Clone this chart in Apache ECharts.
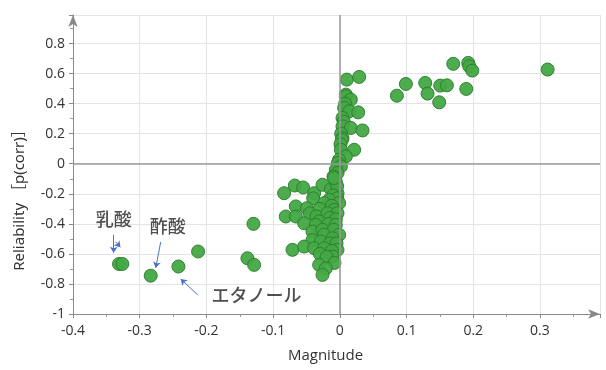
<!DOCTYPE html>
<html>
<head>
<meta charset="utf-8">
<script src="https://cdn.jsdelivr.net/npm/echarts@6/dist/echarts.min.js"></script>
<style>
  html, body { margin: 0; padding: 0; background: #fff; }
  #s-plot { width: 606px; height: 370px; }
</style>
</head>
<body>
<div id="s-plot"></div>
<script>
  // [magnitude, reliability]
  var pointsRight = [
    [0.170, 0.665], [0.1925, 0.671], [0.194, 0.649], [0.1985, 0.62], [0.3115, 0.627],
    [0.099, 0.531], [0.0855, 0.453], [0.128, 0.538], [0.1315, 0.467], [0.1505, 0.52],
    [0.1605, 0.522], [0.149, 0.409], [0.1895, 0.498]
  ];
  var pointsUpper = [
    [0.0105, 0.56], [0.029, 0.578], [0.009, 0.46], [0.009, 0.449], [0.0165, 0.427],
    [0.008, 0.40], [0.0065, 0.371], [0.014, 0.349], [0.0275, 0.342], [0.004, 0.305],
    [0.006, 0.28], [0.004, 0.249], [0.0165, 0.238], [0.034, 0.222], [0.002, 0.20],
    [0.004, 0.171], [0.003, 0.16], [0.001, 0.13], [0.0015, 0.093], [0.0215, 0.093],
    [0.009, 0.049], [-0.001, 0.027], [-0.003, 0.005], [0.0015, -0.018], [-0.006, -0.04],
    [-0.0035, -0.062], [-0.0095, -0.085], [-0.0085, -0.095]
  ];
  var pointsLower = [
    [-0.0835, -0.196], [-0.0675, -0.145], [-0.055, -0.158], [-0.0385, -0.196], [-0.026, -0.14],
    [-0.0135, -0.169], [-0.0035, -0.196], [-0.006, -0.12], [-0.004, -0.15], [-0.010, -0.21],
    [-0.004, -0.23], [-0.016, -0.24], [-0.04, -0.23], [-0.066, -0.284], [-0.0495, -0.296],
    [-0.0235, -0.262], [-0.001, -0.262], [-0.012, -0.28], [-0.03, -0.30], [-0.0085, -0.307],
    [-0.081, -0.351], [-0.066, -0.351], [-0.045, -0.33], [-0.035, -0.35], [-0.0185, -0.329],
    [-0.0035, -0.329], [-0.015, -0.36], [-0.006, -0.37], [-0.0535, -0.396], [-0.031, -0.384],
    [-0.036, -0.407], [-0.017, -0.40], [-0.006, -0.407], [-0.041, -0.451], [-0.026, -0.44],
    [-0.009, -0.44], [-0.0235, -0.473], [-0.001, -0.473], [-0.011, -0.496], [-0.041, -0.507],
    [-0.0285, -0.518], [-0.015, -0.53], [-0.005, -0.53], [-0.071, -0.573], [-0.0535, -0.551],
    [-0.0385, -0.562], [-0.0235, -0.562], [-0.0035, -0.573], [-0.012, -0.58], [-0.030, -0.60],
    [-0.011, -0.618], [-0.02, -0.62], [-0.008, -0.66], [-0.031, -0.673], [-0.021, -0.696],
    [-0.026, -0.74]
  ];
  var pointsLeft = [
    [-0.331, -0.667], [-0.326, -0.667], [-0.2835, -0.745], [-0.242, -0.684], [-0.2125, -0.584],
    [-0.1295, -0.40], [-0.1385, -0.629], [-0.1285, -0.673]
  ];

  // annotations: [x, y, text] and arrows [[x0, y0], [x1, y1]]
  var noteLabels = [
    [-0.339, -0.37, '乳酸'],
    [-0.258, -0.415, '酢酸'],
    [-0.125, -0.873, 'エタノール']
  ];
  var noteArrows = [
    [[-0.339, -0.473], [-0.339, -0.593]],
    [[-0.336, -0.52], [-0.329, -0.556]],
    [[-0.2685, -0.52], [-0.276, -0.693]],
    [[-0.213, -0.873], [-0.2385, -0.767]]
  ];

  var xMin = -0.4, xMax = 0.39, xStep = 0.1;
  var yMin = -1, yMax = 0.99, yStep = 0.2;

  var allPoints = pointsLeft.concat(pointsLower, pointsUpper, pointsRight);
  var chart = echarts.init(document.getElementById('s-plot'));

  var labelFont = '"Open Sans", "Noto Sans", sans-serif';

  var option = {
    animation: false,
    backgroundColor: '#fff',
    grid: { left: 73, right: 6, top: 15, bottom: 56 },
    xAxis: {
      type: 'value',
      min: xMin, max: xMax, interval: xStep,
      name: 'Magnitude',
      nameLocation: 'middle',
      nameGap: 34,
      nameTextStyle: { color: '#333', fontSize: 15, fontFamily: labelFont, padding: [0, 22, 0, 0] },
      axisLine: { onZero: false, symbol: ['none', 'arrow'], symbolSize: [7, 12], lineStyle: { color: '#888', width: 1 } },
      axisTick: { show: true, length: 4, lineStyle: { color: '#888' } },
      minorTick: { show: true, splitNumber: 2, length: 3, lineStyle: { color: '#999' } },
      axisLabel: { color: '#333', fontSize: 14, fontFamily: labelFont, margin: 10, showMaxLabel: false },
      splitLine: { show: true, lineStyle: { color: '#e4e4e4' } }
    },
    yAxis: {
      type: 'value',
      min: yMin, max: yMax, interval: yStep,
      name: 'Reliability ［p(corr)］',
      nameLocation: 'middle',
      nameGap: 46,
      nameTextStyle: { color: '#333', fontSize: 15, fontFamily: '"Noto Sans", "Noto Sans CJK JP", sans-serif', padding: [0, 64, 0, 0] },
      axisLine: { onZero: false, symbol: ['none', 'arrow'], symbolSize: [7, 12], lineStyle: { color: '#888', width: 1 } },
      axisTick: { show: true, length: 4, lineStyle: { color: '#888' } },
      minorTick: { show: true, splitNumber: 2, length: 3, lineStyle: { color: '#999' } },
      axisLabel: { color: '#333', fontSize: 14, fontFamily: labelFont, margin: 8, showMaxLabel: false },
      splitLine: { show: true, lineStyle: { color: '#e4e4e4' } }
    },
    series: [
      {
        name: 'zero',
        type: 'scatter',
        data: [],
        markLine: {
          silent: true,
          symbol: ['none', 'none'],
          label: { show: false },
          lineStyle: { color: '#9a9a9a', width: 1.5, type: 'solid' },
          data: [{ xAxis: 0 }, { yAxis: 0 }]
        }
      },
      {
        name: 'S-plot',
        type: 'scatter',
        symbol: 'circle',
        symbolSize: 13,
        itemStyle: { color: '#43a843', borderColor: '#2c7d2e', borderWidth: 1, opacity: 0.95 },
        data: allPoints
      },
      {
        name: 'notes',
        type: 'scatter',
        symbolSize: 0,
        data: noteLabels,
        label: {
          show: true,
          position: 'inside',
          formatter: function (p) { return p.value[2]; },
          color: '#222',
          fontSize: 18,
          fontWeight: 500,
          fontFamily: '"Noto Sans CJK JP", sans-serif'
        },
        markLine: {
          silent: true,
          symbol: ['none', 'arrow'],
          symbolSize: 6,
          label: { show: false },
          lineStyle: { color: '#4a72c4', width: 1, type: 'solid' },
          data: noteArrows.map(function (a) {
            return [{ coord: a[0] }, { coord: a[1] }];
          })
        }
      }
    ]
  };

  chart.setOption(option);
</script>
</body>
</html>
